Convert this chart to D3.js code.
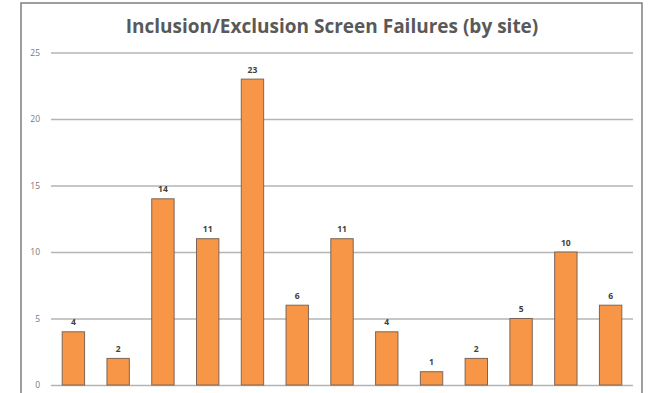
<!DOCTYPE html>
<html>
<head>
<meta charset="utf-8">
<script src="https://cdn.jsdelivr.net/npm/d3@7"></script>
<style>
  html, body { margin: 0; padding: 0; background: #fff; }
  svg { display: block; }
</style>
</head>
<body>
<svg id="chart" width="648" height="393"></svg>
<script>
// Screen failures per site
const sites = ["Site 1","Site 2","Site 3","Site 4","Site 5","Site 6","Site 7",
               "Site 8","Site 9","Site 10","Site 11","Site 12","Site 13"];
const failures = [4, 2, 14, 11, 23, 6, 11, 4, 1, 2, 5, 10, 6];
const yTicks = [0, 5, 10, 15, 20, 25];
const chartTitle = "Inclusion/Exclusion Screen Failures (by site)";

const svg = d3.select("#chart");
const W = 648, H = 393;
const margin = { left: 51, right: 15, top: 52.5, bottom: 8 };

// Chart frame
svg.append("rect")
  .attr("x", 21).attr("y", 3)
  .attr("width", 621).attr("height", 400)
  .attr("fill", "#fff")
  .attr("stroke", "#7f7f7f")
  .attr("stroke-width", 1.5);

const x = d3.scaleBand()
  .domain(sites)
  .range([margin.left, W - margin.right])
  .paddingInner(0.5)
  .paddingOuter(0.25);

const y = d3.scaleLinear()
  .domain([0, 25])
  .range([H - margin.bottom, margin.top]);

// Horizontal gridlines and value labels
const yAxis = d3.axisLeft(y)
  .tickValues(yTicks)
  .tickSize(-(W - margin.right - margin.left))
  .tickPadding(11);

const gy = svg.append("g")
  .attr("transform", `translate(${margin.left},0)`)
  .call(yAxis);
gy.select(".domain").remove();
gy.selectAll(".tick line")
  .attr("stroke", "#b4b4b4")
  .attr("stroke-width", 1.5);
gy.selectAll(".tick text")
  .attr("fill", "#7a7a7a")
  .attr("font-family", "'Open Sans', sans-serif")
  .attr("font-size", 8.5);

// Bars
svg.append("g").selectAll("rect")
  .data(failures)
  .join("rect")
  .attr("x", (d, i) => x(sites[i]))
  .attr("y", d => y(d))
  .attr("width", x.bandwidth())
  .attr("height", d => y(0) - y(d))
  .attr("fill", "#f79646")
  .attr("stroke", "#7d6656")
  .attr("stroke-width", 1);

// Value labels above bars
svg.append("g").selectAll("text")
  .data(failures)
  .join("text")
  .attr("x", (d, i) => x(sites[i]) + x.bandwidth() / 2)
  .attr("y", d => y(d) - 6.5)
  .attr("text-anchor", "middle")
  .attr("fill", "#404040")
  .attr("font-family", "'Open Sans', sans-serif")
  .attr("font-weight", "bold")
  .attr("font-size", 8.5)
  .text(d => d);

// Title
svg.append("text")
  .attr("x", 332)
  .attr("y", 33)
  .attr("text-anchor", "middle")
  .attr("fill", "#595959")
  .attr("font-family", "'Open Sans', sans-serif")
  .attr("font-weight", "bold")
  .attr("font-size", 19)
  .text(chartTitle);
</script>
</body>
</html>
